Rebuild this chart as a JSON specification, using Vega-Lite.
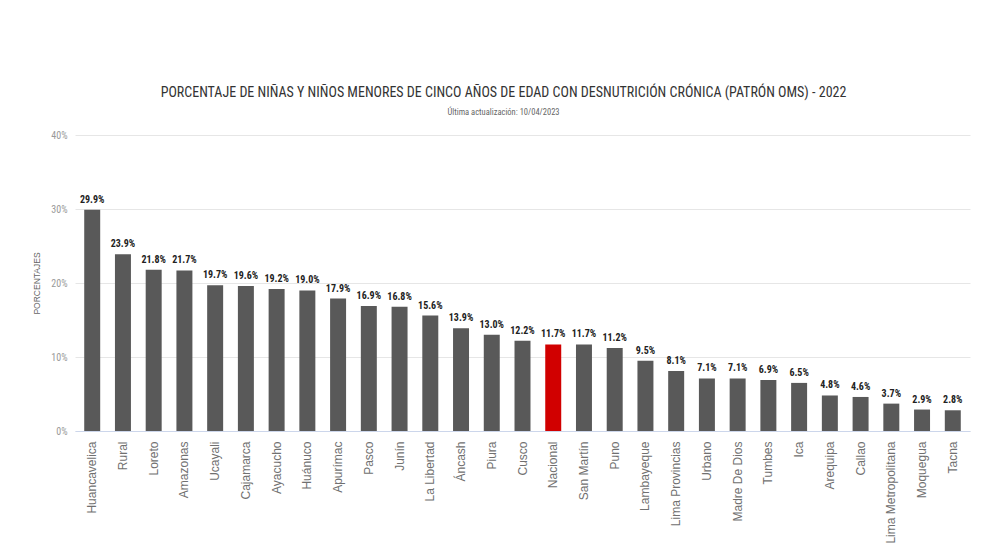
{
  "$schema": "https://vega.github.io/schema/vega-lite/v6.json",
  "width": 895,
  "height": 296,
  "autosize": {"type": "none"},
  "padding": {"left": 75, "top": 135, "right": 19, "bottom": 124},
  "background": "#ffffff",
  "title": {
    "text": "PORCENTAJE DE NIÑAS Y NIÑOS MENORES DE CINCO AÑOS DE EDAD CON DESNUTRICIÓN CRÓNICA (PATRÓN OMS) - 2022",
    "subtitle": "Última actualización: 10/04/2023",
    "anchor": "middle",
    "dx": -19,
    "font": "Roboto Condensed, Liberation Sans Narrow, DejaVu Sans Condensed, Roboto",
    "fontSize": 14,
    "fontWeight": "normal",
    "color": "#333333",
    "subtitleFont": "Roboto Condensed, Liberation Sans Narrow, DejaVu Sans Condensed, Roboto",
    "subtitleFontSize": 8.5,
    "subtitleFontWeight": "normal",
    "subtitleColor": "#666666",
    "subtitlePadding": 8,
    "offset": 14
  },
  "data": {
    "values": [
      {"ambito": "Huancavelica", "pct": 0.299},
      {"ambito": "Rural", "pct": 0.239},
      {"ambito": "Loreto", "pct": 0.218},
      {"ambito": "Amazonas", "pct": 0.217},
      {"ambito": "Ucayali", "pct": 0.197},
      {"ambito": "Cajamarca", "pct": 0.196},
      {"ambito": "Ayacucho", "pct": 0.192},
      {"ambito": "Huánuco", "pct": 0.190},
      {"ambito": "Apurímac", "pct": 0.179},
      {"ambito": "Pasco", "pct": 0.169},
      {"ambito": "Junín", "pct": 0.168},
      {"ambito": "La Libertad", "pct": 0.156},
      {"ambito": "Áncash", "pct": 0.139},
      {"ambito": "Piura", "pct": 0.130},
      {"ambito": "Cusco", "pct": 0.122},
      {"ambito": "Nacional", "pct": 0.117},
      {"ambito": "San Martín", "pct": 0.117},
      {"ambito": "Puno", "pct": 0.112},
      {"ambito": "Lambayeque", "pct": 0.095},
      {"ambito": "Lima Provincias", "pct": 0.081},
      {"ambito": "Urbano", "pct": 0.071},
      {"ambito": "Madre De Dios", "pct": 0.071},
      {"ambito": "Tumbes", "pct": 0.069},
      {"ambito": "Ica", "pct": 0.065},
      {"ambito": "Arequipa", "pct": 0.048},
      {"ambito": "Callao", "pct": 0.046},
      {"ambito": "Lima Metropolitana", "pct": 0.037},
      {"ambito": "Moquegua", "pct": 0.029},
      {"ambito": "Tacna", "pct": 0.028}
    ]
  },
  "encoding": {
    "x": {
      "field": "ambito",
      "type": "nominal",
      "sort": null,
      "scale": {"paddingInner": 0.48, "paddingOuter": 0.3},
      "axis": {
        "title": null,
        "labelAngle": -90,
        "labelAlign": "right",
        "labelBaseline": "middle",
        "labelFont": "Liberation Sans",
        "labelFontSize": 12,
        "labelColor": "#707070",
        "labelPadding": 10,
        "ticks": false,
        "domainColor": "#ccd6eb",
        "grid": false
      }
    },
    "y": {
      "field": "pct",
      "type": "quantitative",
      "scale": {"domain": [0, 0.4]},
      "axis": {
        "title": "PORCENTAJES",
        "titleFont": "Liberation Sans",
        "titleFontSize": 8.5,
        "titleFontWeight": "normal",
        "titleColor": "#666666",
        "titlePadding": 9,
        "values": [0, 0.1, 0.2, 0.3, 0.4],
        "format": ".0%",
        "labelFont": "Roboto Condensed, Liberation Sans Narrow, DejaVu Sans Condensed, Roboto",
        "labelFontSize": 10,
        "labelColor": "#999999",
        "labelPadding": 8,
        "ticks": false,
        "domain": false,
        "gridColor": "#e6e6e6"
      }
    }
  },
  "layer": [
    {
      "mark": {"type": "bar"},
      "encoding": {
        "color": {
          "condition": {"test": "datum.ambito === 'Nacional'", "value": "#d10000"},
          "value": "#595959"
        }
      }
    },
    {
      "mark": {
        "type": "text",
        "baseline": "bottom",
        "dy": -5,
        "font": "Roboto Condensed, Liberation Sans Narrow, DejaVu Sans Condensed, Roboto",
        "fontSize": 10,
        "fontWeight": "bold",
        "color": "#222222"
      },
      "encoding": {
        "text": {"field": "pct", "type": "quantitative", "format": ".1%"}
      }
    }
  ],
  "config": {
    "view": {"stroke": null}
  }
}
